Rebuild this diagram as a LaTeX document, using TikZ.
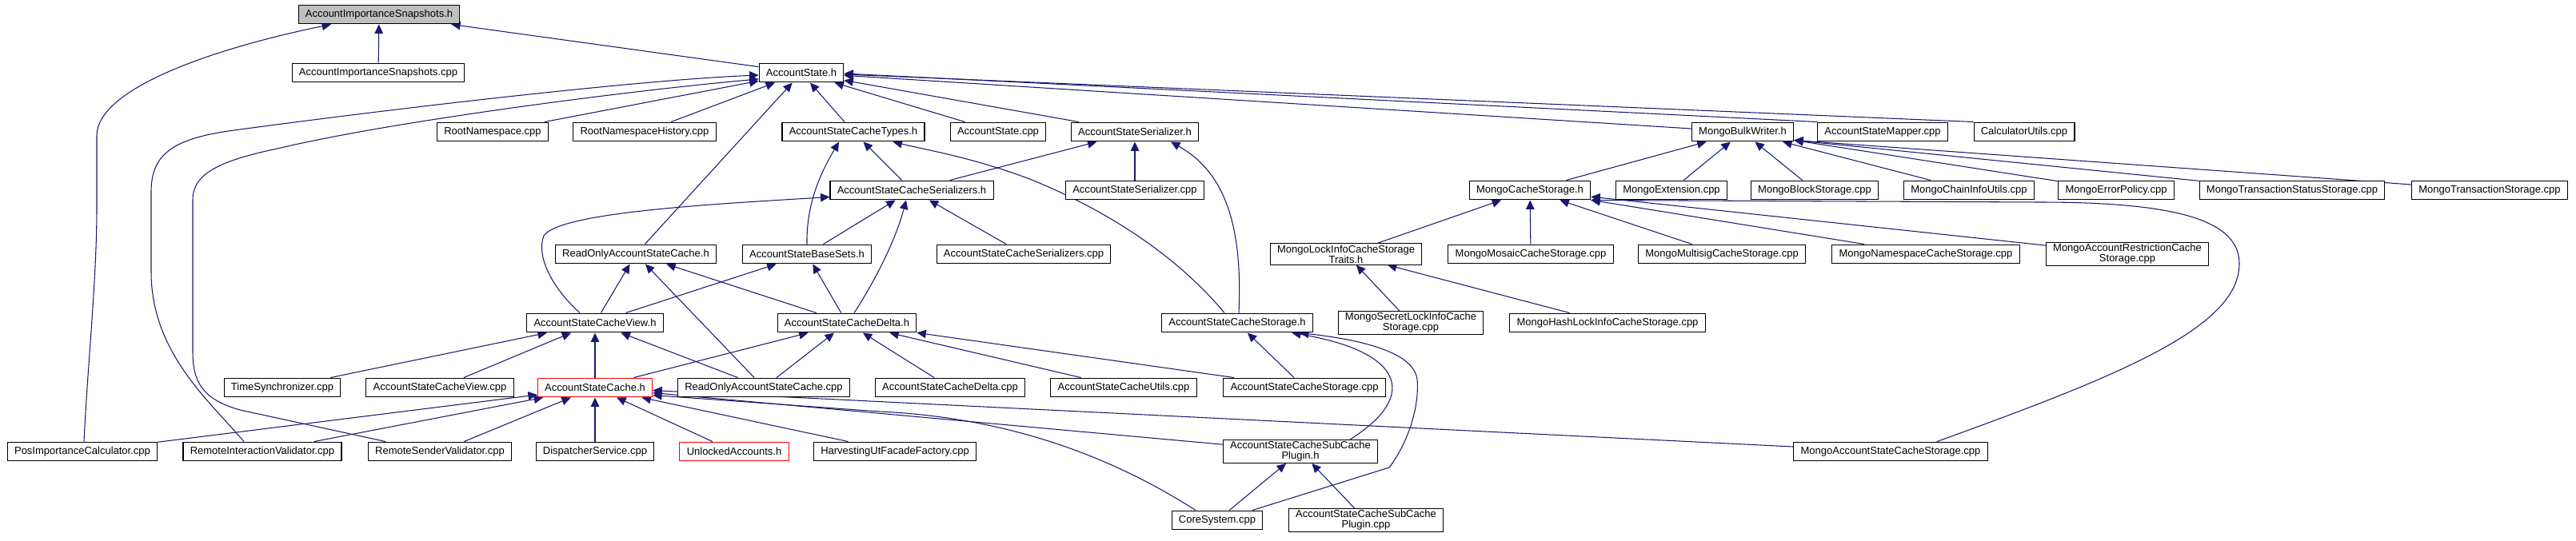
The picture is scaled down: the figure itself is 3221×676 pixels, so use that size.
\documentclass[tikz,border=0pt]{standalone}
\usepackage{fontspec}
\setmainfont{Liberation Sans}
\usepackage{xcolor}
\usetikzlibrary{arrows.meta,calc}

\definecolor{edgeblue}{HTML}{191970}
\definecolor{rootgray}{HTML}{BFBFBF}

\pgfdeclarelayer{background}
\pgfsetlayers{background,main}

\begin{document}
\begin{tikzpicture}[x=0.02cm, y=-0.02cm,
        file/.style={rectangle, draw=black, fill=white, line width=0.6pt, minimum height=13.6pt, inner xsep=5pt, inner ysep=1pt, align=center, font=\fontsize{7.4}{7.5}\selectfont},
        rootfile/.style={file, fill=rootgray},
        cutfile/.style={file, draw=red},
        dep/.style={draw=edgeblue, line width=0.6pt, -{Triangle[length=6.5pt,width=6pt]}}
    ]
        \useasboundingbox (0,0) rectangle (3221,676);

        % Top
        \node[rootfile] (snaph) at (474,18) {AccountImportanceSnapshots.h};
        \node[file] (snapcpp) at (473,91) {AccountImportanceSnapshots.cpp};
        \node[file] (asth) at (1002,91) {AccountState.h};

        % Row 3
        \node[file] (rootns) at (616,165) {RootNamespace.cpp};
        \node[file] (rootnshist) at (806,165) {RootNamespaceHistory.cpp};
        \node[file] (types) at (1067,165) {AccountStateCacheTypes.h};
        \node[file] (ascpp) at (1248,165) {AccountState.cpp};
        \node[file] (ser) at (1419,165) {AccountStateSerializer.h};
        \node[file] (mbw) at (2179,165) {MongoBulkWriter.h};
        \node[file] (mapper) at (2354,165) {AccountStateMapper.cpp};
        \node[file] (calcu) at (2531,165) {CalculatorUtils.cpp};

        % Row 4
        \node[file] (ascser) at (1140,238) {AccountStateCacheSerializers.h};
        \node[file] (sercpp) at (1419,238) {AccountStateSerializer.cpp};
        \node[file] (mcs) at (1913,238) {MongoCacheStorage.h};
        \node[file] (mext) at (2090,238) {MongoExtension.cpp};
        \node[file] (mblock) at (2269,238) {MongoBlockStorage.cpp};
        \node[file] (mchain) at (2462,238) {MongoChainInfoUtils.cpp};
        \node[file] (merr) at (2646,238) {MongoErrorPolicy.cpp};
        \node[file] (mtxstatus) at (2866,238) {MongoTransactionStatusStorage.cpp};
        \node[file] (mtx) at (3113,238) {MongoTransactionStorage.cpp};

        % Row 5
        \node[file] (roh) at (795,318) {ReadOnlyAccountStateCache.h};
        \node[file] (basesets) at (1009,318) {AccountStateBaseSets.h};
        \node[file] (ascsercpp) at (1280,318) {AccountStateCacheSerializers.cpp};
        \node[file] (mlock) at (1683,318) {MongoLockInfoCacheStorage\\Traits.h};
        \node[file] (mmosaic) at (1914,318) {MongoMosaicCacheStorage.cpp};
        \node[file] (mmultisig) at (2153,318) {MongoMultisigCacheStorage.cpp};
        \node[file] (mns) at (2408,318) {MongoNamespaceCacheStorage.cpp};
        \node[file] (mrestr) at (2660,318) {MongoAccountRestrictionCache\\Storage.cpp};

        % Row 6
        \node[file] (view) at (744,404) {AccountStateCacheView.h};
        \node[file] (delta) at (1059,404) {AccountStateCacheDelta.h};
        \node[file] (stor) at (1547,404) {AccountStateCacheStorage.h};
        \node[file] (msecret) at (1764,404) {MongoSecretLockInfoCache\\Storage.cpp};
        \node[file] (mhash) at (2010,404) {MongoHashLockInfoCacheStorage.cpp};

        % Row 7
        \node[file] (timesync) at (353,485) {TimeSynchronizer.cpp};
        \node[file] (viewcpp) at (550,485) {AccountStateCacheView.cpp};
        \node[cutfile] (asc) at (744,485) {AccountStateCache.h};
        \node[file] (rocpp) at (955,485) {ReadOnlyAccountStateCache.cpp};
        \node[file] (deltacpp) at (1188,485) {AccountStateCacheDelta.cpp};
        \node[file] (utils) at (1405,485) {AccountStateCacheUtils.cpp};
        \node[file] (storcpp) at (1631,485) {AccountStateCacheStorage.cpp};

        % Row 8
        \node[file] (posimp) at (103,565) {PosImportanceCalculator.cpp};
        \node[file] (remint) at (328,565) {RemoteInteractionValidator.cpp};
        \node[file] (remsend) at (550,565) {RemoteSenderValidator.cpp};
        \node[file] (disp) at (744,565) {DispatcherService.cpp};
        \node[cutfile] (unlocked) at (918,565) {UnlockedAccounts.h};
        \node[file] (harvest) at (1119,565) {HarvestingUtFacadeFactory.cpp};
        \node[file] (subh) at (1626,565) {AccountStateCacheSubCache\\Plugin.h};
        \node[file] (mas) at (2364,565) {MongoAccountStateCacheStorage.cpp};

        % Bottom
        \node[file] (core) at (1522,651) {CoreSystem.cpp};
        \node[file] (subcpp) at (1708,651) {AccountStateCacheSubCache\\Plugin.cpp};

        \begin{pgfonlayer}{background}
        % Straight edges
        \draw[dep] (snapcpp) -- (snaph);
        \draw[dep] (asth) -- (snaph);
        \foreach \src in {rootns, rootnshist, types, ascpp, ser, mbw, roh}
            \draw[dep] (\src) -- (asth);
        \draw[dep] (mapper.north west) -- ($(asth.east)+(0,1)$);
        \draw[dep] (calcu.north west) -- ($(asth.east)+(0,2)$);
        \draw[dep] (ascser) -- (types);
        \draw[dep] (ascser) -- (ser);
        \draw[dep] (sercpp) -- (ser);
        \draw[dep] (mcs) -- (mbw);
        \draw[dep] (mext) -- (mbw);
        \draw[dep] (mblock) -- (mbw);
        \draw[dep] (mchain) -- ($(mbw.south east)+(-14,0)$);
        \foreach \src in {merr, mtxstatus, mtx}
            \draw[dep] (\src) -- ($(mbw.south east)+(0,-2)$);
        \draw[dep] (basesets) -- (ascser);
        \draw[dep] (ascsercpp) -- (ascser);
        \foreach \src in {mlock, mmosaic, mmultisig, mns, mrestr}
            \draw[dep] (\src) -- (mcs);
        \draw[dep] (view) -- (roh);
        \draw[dep] (rocpp) -- (roh);
        \draw[dep] (delta) -- (roh);
        \draw[dep] (view) -- (basesets);
        \draw[dep] (delta) -- (basesets);
        \draw[dep] (msecret) -- (mlock);
        \draw[dep] (mhash) -- (mlock);
        \foreach \src in {timesync, viewcpp, asc, rocpp}
            \draw[dep] (\src) -- (view);
        \foreach \src in {asc, rocpp, deltacpp, utils, storcpp}
            \draw[dep] (\src) -- (delta);
        \draw[dep] (storcpp) -- (stor);
        \foreach \src in {posimp, remint, remsend, disp, unlocked, harvest, subh, mas}
            \draw[dep] (\src) -- (asc);
        \draw[dep] (core) -- (subh);
        \draw[dep] (subcpp) -- (subh);

        % Curved edges
        \draw[dep] ($(posimp.north)+(2,0)$) .. controls (110,450) and (121,350) .. (121,260) -- (121,170)
            .. controls (121,110) and (270,60) .. ($(snaph.south)+(-60,0)$);
        \draw[dep] ($(remint.north)+(-23,0)$) .. controls (260,500) and (189,440) .. (189,340) -- (189,240)
            .. controls (189,190) and (220,172) .. (300,162) .. controls (500,135) and (800,100) .. ($(asth.west)+(0,3)$);
        \draw[dep] ($(remsend.north)+(-68,0)$) -- (300,513) .. controls (255,500) and (241,480) .. (241,440) -- (241,250)
            .. controls (241,215) and (280,200) .. (351,185) .. controls (500,150) and (800,112) .. ($(asth.west)+(0,8)$);
        \draw[dep] ($(view.north)+(-19,0)$) .. controls (690,360) and (670,320) .. (680,295)
            .. controls (700,265) and (900,255) .. ($(ascser.south west)+(0,-4)$);
        \draw[dep] (basesets.north) .. controls (1008,250) and (1030,210) .. ($(types.south)+(-18,0)$);
        \draw[dep] ($(stor.north)+(-16,0)$) .. controls (1480,330) and (1400,270) .. (1290,225)
            .. controls (1220,198) and (1160,188) .. ($(types.south east)+(-40,0)$);
        \draw[dep] ($(stor.north)+(2,0)$) .. controls (1553,300) and (1540,220) .. ($(ser.south)+(45,0)$);
        \draw[dep] ($(delta.north)+(9,0)$) .. controls (1095,350) and (1120,300) .. ($(ascser.south)+(-7,0)$);
        \draw[dep] ($(subh.north)+(62,0)$) .. controls (1775,495) and (1755,440) .. ($(stor.south)+(68,0)$);
        \draw[dep] ($(core.north)+(44,0)$) -- (1737,585) .. controls (1760,555) and (1775,510) .. (1772,475)
            .. controls (1768,440) and (1700,425) .. ($(stor.south)+(78,0)$);
        \draw[dep] ($(core.north)+(-27,0)$) .. controls (1380,565) and (1250,522) .. (1100,515) -- ($(asc.south east)+(0,-3)$);
        \draw[dep] ($(mas.north)+(58,0)$) .. controls (2650,470) and (2800,410) .. (2800,330)
            .. controls (2800,275) and (2720,253) .. (2550,253) -- (mcs.south east);
        \end{pgfonlayer}
    \end{tikzpicture}
\end{document}
